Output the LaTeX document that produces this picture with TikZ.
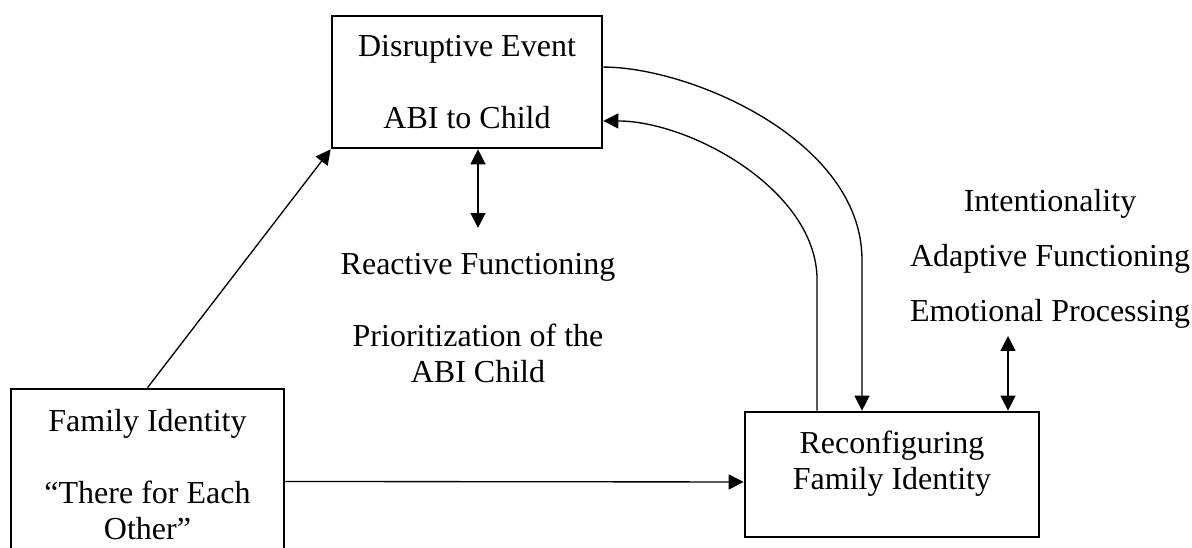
\documentclass[tikz,border=0pt]{standalone}
\usepackage{fontspec}
\setmainfont{Liberation Serif}
\usetikzlibrary{positioning,arrows.meta}

\begin{document}
\begin{tikzpicture}[x=0.375pt,y=-0.375pt,
    every node/.style={font=\fontsize{12}{13.5}\selectfont,inner sep=0pt},
    block/.style={draw,line width=1pt},
    txt/.style={align=center},
    conn/.style={line width=0.5pt,-{Triangle[length=5.6pt,width=5.6pt]}},
    both/.style={line width=0.5pt,{Triangle[length=5.6pt,width=5.6pt]}-{Triangle[length=5.6pt,width=5.6pt]}}]

    \useasboundingbox (0,0) rectangle (1192,547);
    \clip (0,0) rectangle (1192,547);

    \node (dis) [block,minimum width=101.25pt,minimum height=49.5pt] at (467,82) {};
    \node (fam) [block,minimum width=102.4pt,minimum height=63.75pt] at (147.5,474) {};
    \node (rec) [block,minimum width=110.25pt,minimum height=46.9pt] at (892,474.5) {};

    \node (distext) [txt,below=7.5pt of dis.north] {Disruptive Event\\[13.5pt]ABI to Child};
    \node (famtext) [txt,below=7.8pt of fam.north] {Family Identity\\[13.5pt]“There for Each\\Other”};
    \node (rectext) [txt,below=7.5pt of rec.north] {Reconfiguring\\Family Identity};

    \node (react) [txt,anchor=north] at (478,253) {Reactive Functioning\\[13.5pt]Prioritization of the\\ABI Child};
    \node (intent) [txt,anchor=north,font=\fontsize{12}{20.6}\selectfont] at (1050,189) {Intentionality\\Adaptive Functioning\\Emotional Processing};

    \coordinate (outD) at ([yshift=5.6pt]dis.east);
    \coordinate (inD) at ([yshift=-14.6pt]dis.east);
    \coordinate (inR) at ([xshift=-11.25pt]rec.north);
    \coordinate (outR) at ([xshift=-28.1pt]rec.north);
    \coordinate (tipE) at ([xshift=43.5pt]rec.north);

    \draw[conn] (fam.north) -- (dis.south west);
    \draw[conn] ([yshift=-2.8pt]fam.east) -- ([yshift=-2.8pt]rec.west);
    \draw[conn] (outD) .. controls (690,67) and (862,140) .. (inR |- 0,260) -- (inR);
    \draw[conn] (outR) -- (outR |- 0,280) .. controls (817,190) and (690,121) .. (inD);
    \draw[both] (react.north |- dis.south) -- ([yshift=9.4pt]react.north);
    \draw[both] ([yshift=-2.6pt]tipE |- intent.south) -- (tipE);
\end{tikzpicture}
\end{document}
